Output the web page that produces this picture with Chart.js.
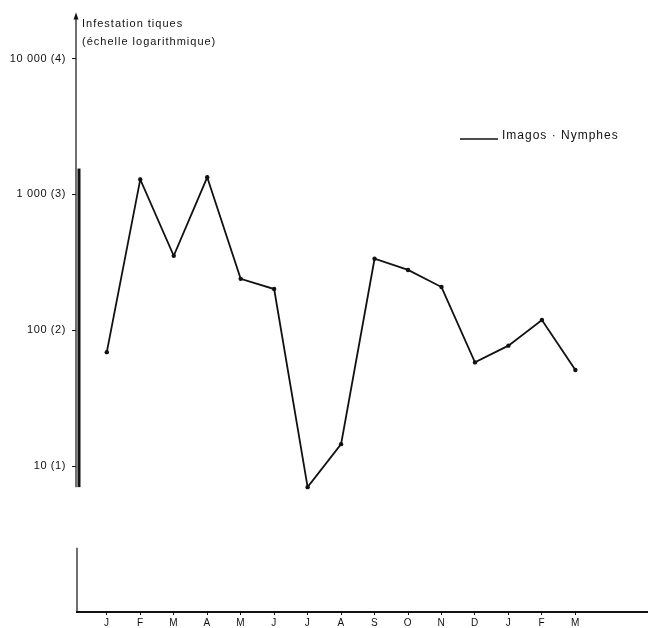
<!DOCTYPE html>
<html>
<head>
<meta charset="utf-8">
<script src="https://cdn.jsdelivr.net/npm/chart.js@4.4.1/dist/chart.umd.min.js"></script>
<style>
  html, body { margin: 0; padding: 0; background: #fff; }
  #wrap { width: 648px; height: 628px; }
</style>
</head>
<body>
<div id="wrap"><canvas id="c" width="648" height="628"></canvas></div>
<script>
// Months over the survey period (January to March of the following year)
const months = ['J', 'F', 'M', 'A', 'M', 'J', 'J', 'A', 'S', 'O', 'N', 'D', 'J', 'F', 'M'];
// Tick infestation per month (adults + nymphs), log scale
const infestation = [69, 1290, 353, 1336, 239, 201, 7, 14.5, 336, 278, 208, 58, 77, 119, 51];
// Log-axis ticks and their printed labels
const yTickValues = [10, 100, 1000, 10000];
const yTickLabels = ['10 (1)', '100 (2)', '1 000 (3)', '10 000 (4)'];
const titleLines = ['Infestation tiques', '(échelle logarithmique)'];
const seriesLabel = 'Imagos · Nymphes';

const FONT = '"Liberation Sans", Arial, Helvetica, sans-serif';
const INK = '#111';

// Slightly open letter spacing, as in the typeset labels
const spacing = {
  id: 'spacing',
  beforeDraw(chart) { chart.ctx.letterSpacing = '0.6px'; }
};

// Axis lines (with arrow, heavy bar and break), title and inline legend
const axisDecor = {
  id: 'axisDecor',
  afterDraw(chart) {
    const { ctx, chartArea: a, scales: { y } } = chart;
    const x0 = a.left;
    const barTop = y.getPixelForValue(1550);
    const breakTop = y.getPixelForValue(7);
    const breakBottom = y.getPixelForValue(2.5);
    ctx.save();
    ctx.strokeStyle = INK;
    ctx.fillStyle = INK;

    // upper y-axis line ending in an arrow
    ctx.lineWidth = 1.2;
    ctx.beginPath();
    ctx.moveTo(x0, a.top + 3);
    ctx.lineTo(x0, breakTop);
    ctx.stroke();
    ctx.beginPath();
    ctx.moveTo(x0, a.top);
    ctx.lineTo(x0 - 2.5, a.top + 7);
    ctx.lineTo(x0 + 2.5, a.top + 7);
    ctx.closePath();
    ctx.fill();

    // heavy bar alongside the axis
    ctx.fillRect(x0 + 1.5, barTop, 3, breakTop - barTop);

    // stub below the axis break
    ctx.lineWidth = 1.2;
    ctx.beginPath();
    ctx.moveTo(x0 + 1, breakBottom);
    ctx.lineTo(x0 + 1, a.bottom);
    ctx.stroke();

    // x axis
    ctx.lineWidth = 2;
    ctx.beginPath();
    ctx.moveTo(x0, a.bottom);
    ctx.lineTo(chart.width, a.bottom);
    ctx.stroke();

    // axis title
    ctx.letterSpacing = '1px';
    ctx.font = '11px ' + FONT;
    ctx.textAlign = 'left';
    ctx.textBaseline = 'middle';
    ctx.fillText(titleLines[0], x0 + 6, 24);
    ctx.fillText(titleLines[1], x0 + 6, 42);

    // inline legend
    const ly = 136;
    ctx.lineWidth = 1.6;
    ctx.beginPath();
    ctx.moveTo(460, ly + 3);
    ctx.lineTo(498, ly + 3);
    ctx.stroke();
    ctx.font = '12px ' + FONT;
    ctx.fillText(chart.data.datasets[0].label, 502, ly);
    ctx.restore();
  }
};

new Chart(document.getElementById('c'), {
  type: 'line',
  data: {
    datasets: [{
      label: seriesLabel,
      data: infestation.map((v, i) => ({ x: i, y: v })),
      borderColor: INK,
      borderWidth: 1.8,
      pointRadius: 2.2,
      pointBackgroundColor: INK,
      pointBorderWidth: 0,
      tension: 0,
      clip: false
    }]
  },
  options: {
    responsive: false,
    animation: false,
    devicePixelRatio: 1,
    layout: { padding: { top: 12, left: 0, right: 0, bottom: 0 } },
    plugins: { legend: { display: false }, tooltip: { enabled: false } },
    scales: {
      x: {
        type: 'linear',
        min: -0.92,
        max: 16.05,
        afterBuildTicks: s => { s.ticks = months.map((m, i) => ({ value: i })); },
        afterFit: s => { s.height = 16; },
        ticks: {
          callback: (v, i) => months[i],
          autoSkip: false,
          maxRotation: 0,
          padding: 2,
          color: INK,
          font: { size: 10, family: FONT }
        },
        grid: { drawOnChartArea: false, drawTicks: true, tickLength: 3, color: INK },
        border: { display: false }
      },
      y: {
        type: 'logarithmic',
        min: 0.843,
        max: 21800,
        afterBuildTicks: s => { s.ticks = yTickValues.map(v => ({ value: v })); },
        afterFit: s => { s.width = 76; },
        ticks: {
          callback: (v, i) => yTickLabels[i],
          autoSkip: false,
          padding: 6,
          color: INK,
          font: { size: 11, family: FONT }
        },
        grid: { drawOnChartArea: false, drawTicks: true, tickLength: 4, color: INK },
        border: { display: false }
      }
    }
  },
  plugins: [spacing, axisDecor]
});
</script>
</body>
</html>
